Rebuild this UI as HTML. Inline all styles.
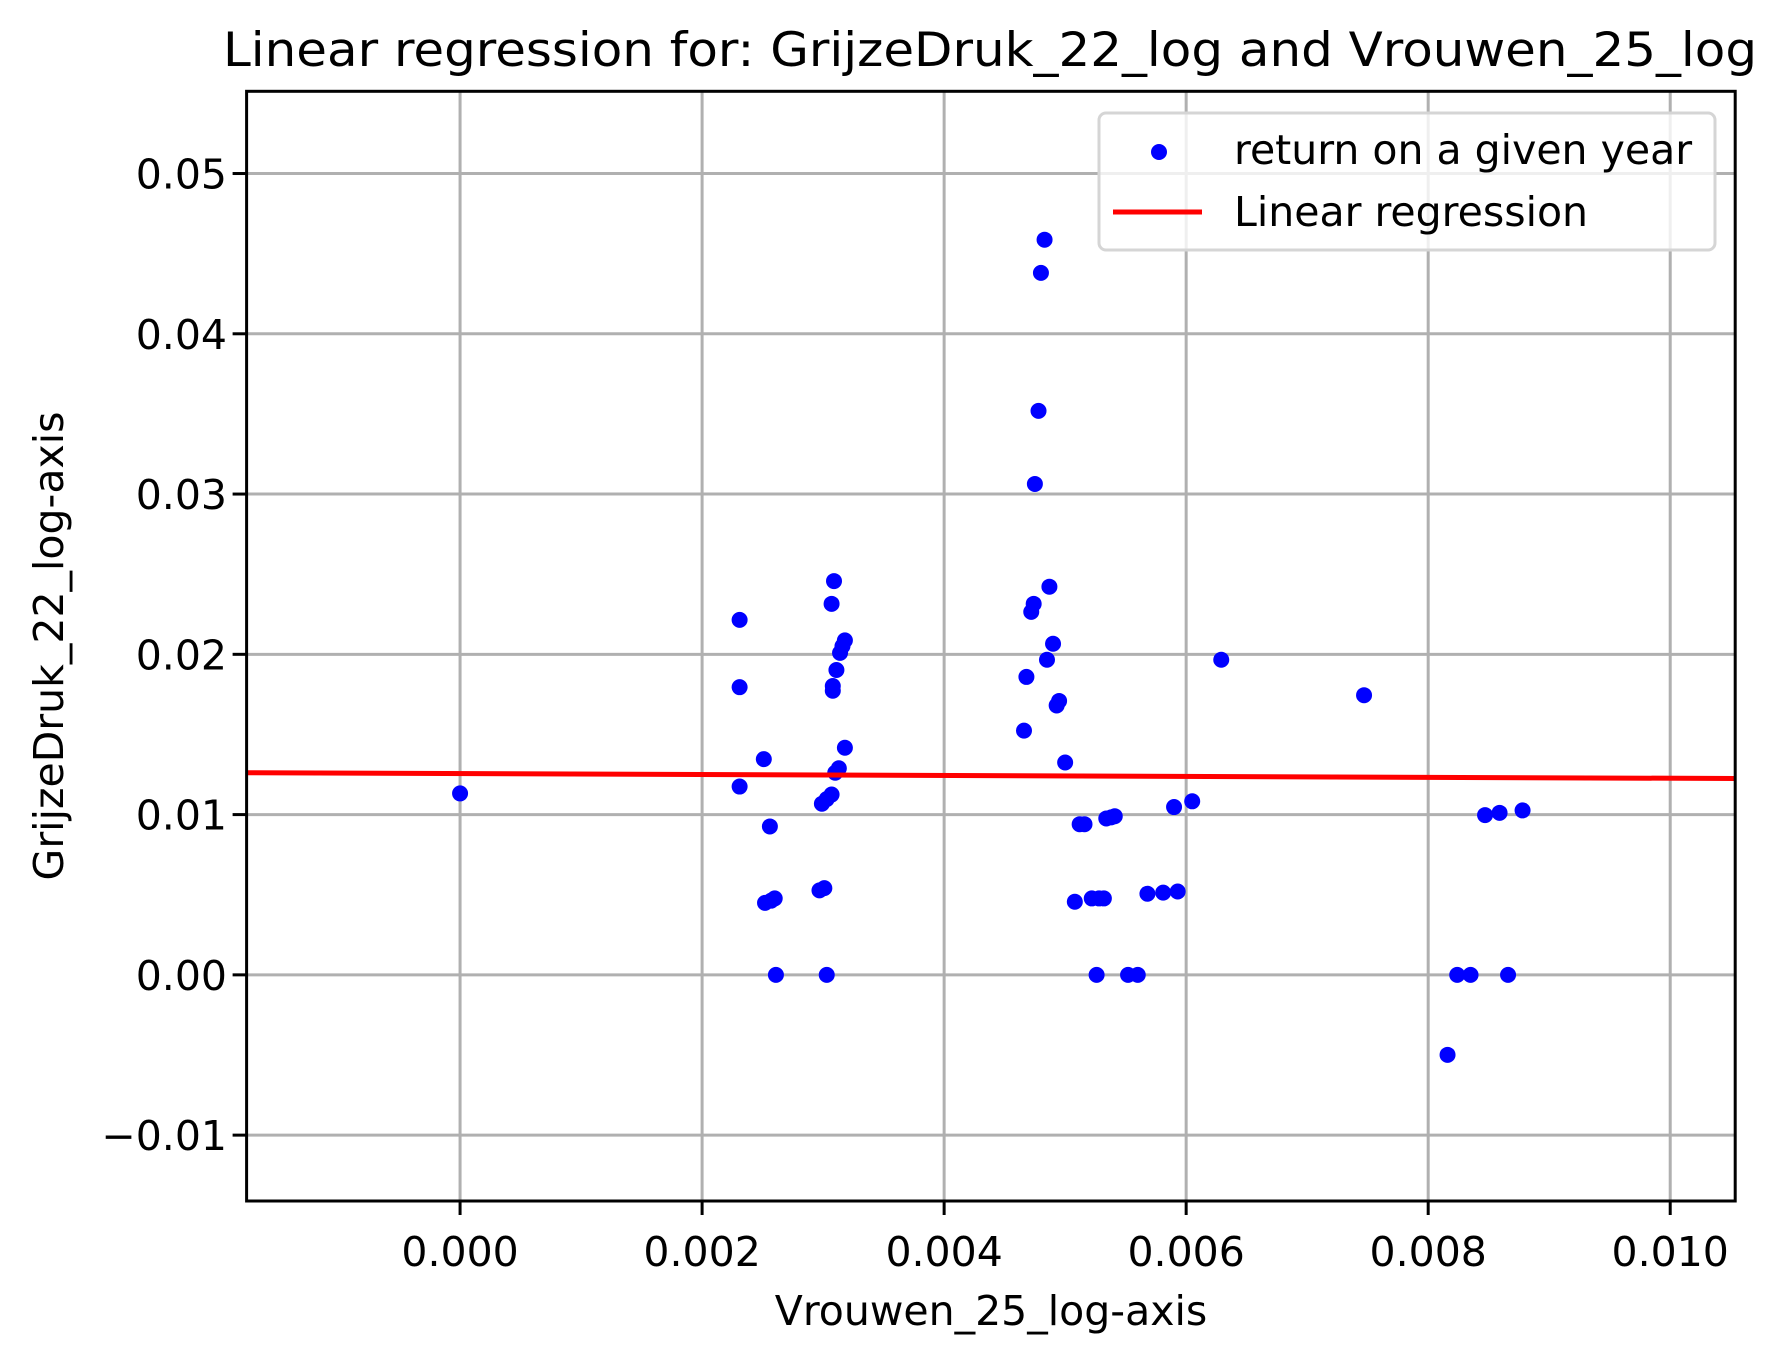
<!DOCTYPE html>
<html><head><meta charset="utf-8"><style>
html,body{margin:0;padding:0;background:#fff;}
svg{display:block;font-family:"DejaVu Sans","Liberation Sans",sans-serif;}
</style></head><body>
<svg id="chart" width="1789" height="1362" viewBox="0 0 1789 1362" xmlns="http://www.w3.org/2000/svg">
<rect width="1789" height="1362" fill="#fff"/>
<g id="grid"></g>
<g id="marks"></g>
<g id="axes"></g>
<text x="990" y="66" font-size="47" text-anchor="middle" textLength="1534" lengthAdjust="spacingAndGlyphs">Linear regression for: GrijzeDruk_22_log and Vrouwen_25_log</text>
<text x="991" y="1325" font-size="41" text-anchor="middle">Vrouwen_25_log-axis</text>
<text x="0" y="0" font-size="41" text-anchor="middle" transform="translate(63,646) rotate(-90)">GrijzeDruk_22_log-axis</text>
<g>
<rect x="1099" y="113" width="616" height="137" rx="7" fill="#fff" fill-opacity="0.8" stroke="#d5d5d5" stroke-width="3"/>
<circle cx="1159" cy="152" r="8" fill="#0000ff"/>
<text x="1234" y="164" font-size="41">return on a given year</text>
<line x1="1113" y1="212" x2="1202" y2="212" stroke="#ff0000" stroke-width="5"/>
<text x="1234" y="226" font-size="41">Linear regression</text>
</g>
</svg>
<script>
const xs=[0,0.00231,0.00231,0.00231,0.00251,0.00256,0.00252,0.00257,0.00260,0.00261,0.00297,0.00301,0.00303,0.00299,0.00303,0.00307,0.00307,0.00309,0.00308,0.00308,0.00311,0.00314,0.00316,0.00318,0.0031,0.00313,0.00318,0.00466,0.00468,0.00472,0.00474,0.00475,0.00478,0.0048,0.00483,0.00485,0.00487,0.0049,0.00493,0.00495,0.005,0.00508,0.00512,0.00516,0.00522,0.00526,0.00528,0.00532,0.00534,0.00538,0.00541,0.00552,0.0056,0.00568,0.00581,0.00593,0.0059,0.00605,0.00629,0.00747,0.00816,0.00824,0.00835,0.00847,0.00859,0.00866,0.00878];
const ys=[0.01132,0.02215,0.01795,0.01175,0.01346,0.00926,0.00449,0.00463,0.00477,0,0.00527,0.00541,0,0.01068,0.01097,0.01125,0.02315,0.02457,0.01802,0.01773,0.01902,0.02009,0.02051,0.02087,0.01261,0.01289,0.01417,0.01524,0.01859,0.02265,0.02315,0.03063,0.03519,0.0438,0.04587,0.01966,0.02422,0.02066,0.01681,0.01709,0.01325,0.00456,0.0094,0.0094,0.00477,0,0.00477,0.00477,0.00976,0.00983,0.0099,0,0,0.00506,0.00513,0.0052,0.01047,0.01083,0.01966,0.01745,-0.00499,0,0,0.00997,0.01011,0,0.01026];
const regIntercept=0.01256;
const regSlope=-0.0293;
const xTicks=[0,0.002,0.004,0.006,0.008,0.010];
const xTickLabels=["0.000","0.002","0.004","0.006","0.008","0.010"];
const yTicks=[-0.01,0,0.01,0.02,0.03,0.04,0.05];
const yTickLabels=["\u22120.01","0.00","0.01","0.02","0.03","0.04","0.05"];
const xMin=-0.001764,xMax=0.010537,yMin=-0.01411,yMax=0.05513;
const L=246.6,R=1735.2,T=91.3,B=1201;
const sx=v=>L+(v-xMin)/(xMax-xMin)*(R-L);
const sy=v=>B-(v-yMin)/(yMax-yMin)*(B-T);
const NS="http://www.w3.org/2000/svg";
function mk(tag,parent,attrs){const e=document.createElementNS(NS,tag);for(const k in attrs)e.setAttribute(k,attrs[k]);parent.appendChild(e);return e;}
const grid=document.getElementById('grid'),marks=document.getElementById('marks'),axes=document.getElementById('axes');
xTicks.forEach((t,i)=>{
 const g=mk('line',grid,{x1:sx(t),x2:sx(t),y1:T,y2:B,stroke:'#b0b0b0','stroke-width':3});
 
 
 const tk=mk('line',axes,{x1:sx(t),x2:sx(t),y1:B,y2:B+14,stroke:'#000','stroke-width':3});
 
 
 const tx=mk('text',axes,{x:sx(t),y:1266,'font-size':41,'text-anchor':'middle'});
 tx.textContent=xTickLabels[i];
 
 
});
yTicks.forEach((t,i)=>{
 const g=mk('line',grid,{x1:L,x2:R,y1:sy(t),y2:sy(t),stroke:'#b0b0b0','stroke-width':3});
 
 
 const tk=mk('line',axes,{x1:L-14,x2:L,y1:sy(t),y2:sy(t),stroke:'#000','stroke-width':3});
 
 
 const tx=mk('text',axes,{x:227,y:sy(t)+15,'font-size':41,'text-anchor':'end'});
 tx.textContent=yTickLabels[i];
 
 
});
xs.forEach((x,i)=>{
 const c=mk('circle',marks,{cx:sx(x),cy:sy(ys[i]),r:8,fill:'#0000ff'});
 
 
});
const rl=mk('line',marks,{x1:sx(xMin),y1:sy(regIntercept+regSlope*xMin),x2:sx(xMax),y2:sy(regIntercept+regSlope*xMax),stroke:'#ff0000','stroke-width':5});


const fr=mk('rect',axes,{x:L,y:T,width:R-L,height:B-T,fill:'none',stroke:'#000','stroke-width':3});


</script>
</body></html>
